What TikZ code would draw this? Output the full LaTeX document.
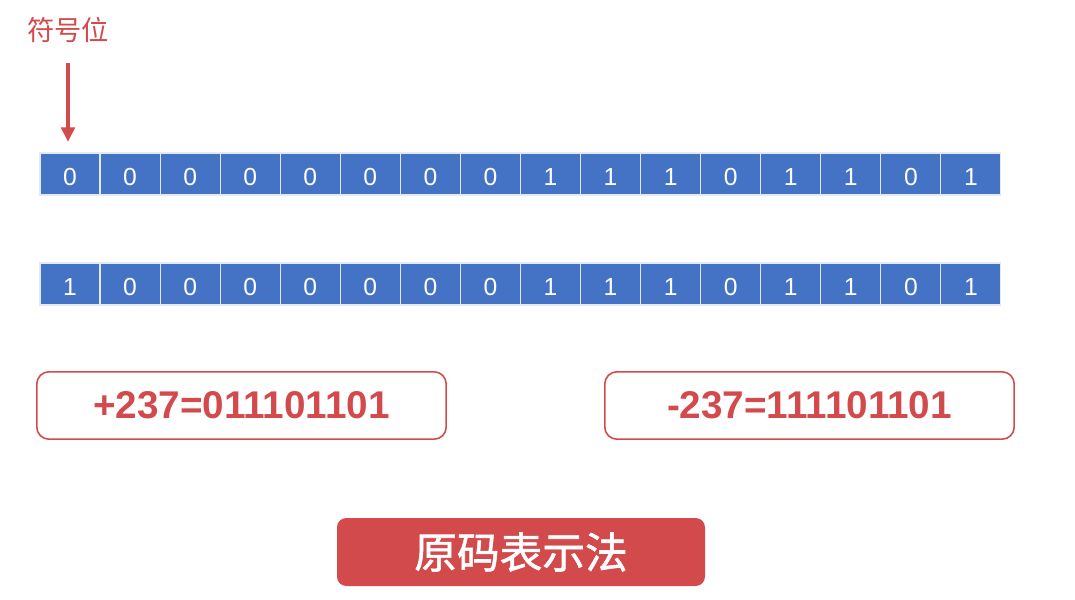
\documentclass[tikz,border=0pt]{standalone}
\usepackage{fontspec}
\setmainfont{Liberation Sans}
\newfontfamily\cjk{Noto Sans CJK SC}
\newfontfamily\cjkmid[FakeBold=1.3]{Noto Sans CJK SC}
\usetikzlibrary{positioning,arrows.meta}
\definecolor{bitblue}{HTML}{4472C4}
\definecolor{signred}{HTML}{D34A4C}
\tikzset{arrow/.style={-{Triangle[length=11pt,width=10pt]}, line width=2.8pt, signred}}
\tikzset{bitcell/.style={fill=bitblue, draw=white!85!bitblue, line width=0.8pt,
    minimum width=45pt, minimum height=31.5pt, inner sep=0pt,
    text height=17pt, text depth=0pt,
    text=white, font=\fontsize{18.5}{18.5}\selectfont}}
\tikzset{codebox/.style={draw=signred, line width=1.2pt, rounded corners=9pt,
    minimum width=307pt, minimum height=50.5pt, text=signred,
    font=\fontsize{29}{29}\selectfont\bfseries}}
\newcommand{\topbits}{0,0,0,0,0,0,0,0,1,1,1,0,1,1,0,1}
\newcommand{\lowbits}{1,0,0,0,0,0,0,0,1,1,1,0,1,1,0,1}

\begin{document}
\begin{tikzpicture}[x=0.75pt, y=-0.75pt]
      \useasboundingbox (0,0) rectangle (1075,600);

      % two rows of sixteen bits
      \foreach \b [count=\i] in \topbits
        \node[bitcell] (t\i) at ({40+60.06*(\i-0.5)}, 174) {\b};
      \foreach \b [count=\i] in \lowbits
        \node[bitcell] (l\i) at ({40+60.06*(\i-0.5)}, 284) {\b};

      \node[text=signred, font=\cjk\fontsize{20.5}{21}\selectfont] (sign) at (68, 30) {符号位};
      \coordinate (signtop) at (68, 63);
      \coordinate (signtip) at (68, 142);
      \draw[arrow] (signtop) -- (signtip);

      \node[codebox] (pos) at (241.5, 405.5) {+237=011101101};
      \node[codebox] (neg) at (809.5, 405.5) {-237=111101101};

      \node[fill=signred, rounded corners=7pt, minimum width=276pt, minimum height=51pt,
            text=white, font=\cjkmid\fontsize{32}{32}\selectfont] (title) at (521, 552) {原码表示法};
    \end{tikzpicture}
\end{document}
